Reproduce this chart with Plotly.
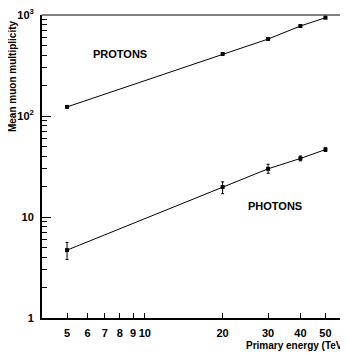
import plotly.graph_objects as go

energy = [5, 20, 30, 40, 50]
protons = [123, 411, 578, 778, 940]
protons_err = [3, 8, 10, 14, 16]
photons = [4.7, 19.8, 30.0, 38.0, 46.5]
photons_err_up = [0.9, 2.5, 3.3, 2.2, 2.0]
photons_err_down = [0.9, 2.8, 2.9, 2.0, 2.0]

x_tickvals = [5, 6, 7, 8, 9, 10, 20, 30, 40, 50, 60]
x_ticktext = ["5", "6", "7", "8", "9", "10", "20", "30", "40", "50", "60"]
y_tickvals = [1, 10, 100, 1000]
y_ticktext = ["1", "10", "10<sup>2</sup>", "10<sup>3</sup>"]
y_minor = [m * d for d in (1, 10, 100) for m in range(2, 10)]

FONT = "Liberation Sans"

fig = go.Figure()
fig.add_trace(go.Scatter(
    x=energy, y=protons, mode="lines+markers",
    line=dict(color="black", width=1),
    marker=dict(symbol="square", size=4, color="black"),
    error_y=dict(type="data", array=protons_err, color="black", thickness=1, width=1),
    showlegend=False))
fig.add_trace(go.Scatter(
    x=energy, y=photons, mode="lines+markers",
    line=dict(color="black", width=1),
    marker=dict(symbol="square", size=4, color="black"),
    error_y=dict(type="data", array=photons_err_up, arrayminus=photons_err_down,
                 color="black", thickness=1, width=1.5),
    showlegend=False))

# page body has an 8px default margin; figure sized/margined to compensate
fig.update_layout(
    template="none",
    width=340, height=348,
    margin=dict(l=34, r=2, t=7, b=38, autoexpand=False),
    paper_bgcolor="white", plot_bgcolor="white",
    font=dict(family=FONT, size=11, color="black", weight="bold"),
    xaxis=dict(type="log", range=[0.60206, 1.7785], automargin=False,
               tickvals=x_tickvals, ticktext=x_ticktext,
               ticks="inside", ticklen=5, tickwidth=1, tickcolor="black",
               ticklabelstandoff=4, ticklabeloverflow="allow",
               showline=True, linecolor="black", linewidth=2,
               showgrid=False, zeroline=False,
               tickfont=dict(family=FONT, size=11, weight="bold")),
    yaxis=dict(type="log", range=[0, 3], automargin=False,
               tickvals=y_tickvals, ticktext=y_ticktext,
               ticks="inside", ticklen=9, tickwidth=1, tickcolor="black",
               ticklabelstandoff=4, ticklabeloverflow="allow",
               minor=dict(tickvals=y_minor, ticks="inside", ticklen=5,
                          tickwidth=1, tickcolor="black", showgrid=False),
               showline=True, linecolor="black", linewidth=2,
               showgrid=False, zeroline=False,
               tickfont=dict(family=FONT, size=11, weight="bold")),
)

# top and right frame lines (thinner)
fig.add_shape(type="line", xref="paper", yref="paper", x0=0, x1=1, y0=1, y1=1,
              line=dict(color="black", width=1))
fig.add_shape(type="line", xref="paper", yref="paper", x0=1, x1=1, y0=0, y1=1,
              line=dict(color="black", width=1))

fig.add_annotation(text="PROTONS", x=0.905, y=2.614, xref="x", yref="y",
                   showarrow=False, font=dict(family=FONT, size=11, weight="bold"))
fig.add_annotation(text="PHOTONS", x=1.502, y=1.109, xref="x", yref="y",
                   showarrow=False, font=dict(family=FONT, size=11, weight="bold"))
fig.add_annotation(text="Mean muon multiplicity", textangle=-90,
                   xref="paper", yref="paper", x=(12 - 42) / 304, y=0.99,
                   xanchor="center", yanchor="top", showarrow=False,
                   font=dict(family=FONT, size=10, weight="bold"))
fig.add_annotation(text="Primary energy (TeV)",
                   xref="paper", yref="paper", x=(348 - 42) / 304, y=-27 / 303,
                   xanchor="right", yanchor="middle", showarrow=False,
                   font=dict(family=FONT, size=10, weight="bold"))

fig.write_html("out.html")
